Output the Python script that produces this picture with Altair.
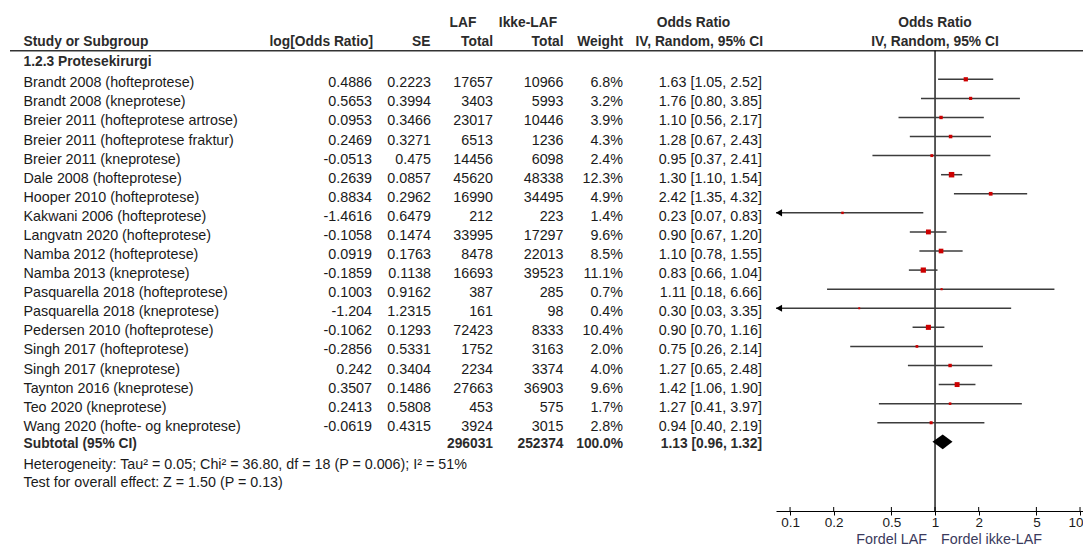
import altair as alt
import pandas as pd

# ---------------- data ----------------
studies = [
    "Brandt 2008 (hofteprotese)", "Brandt 2008 (kneprotese)",
    "Breier 2011 (hofteprotese artrose)", "Breier 2011 (hofteprotese fraktur)",
    "Breier 2011 (kneprotese)", "Dale 2008 (hofteprotese)", "Hooper 2010 (hofteprotese)",
    "Kakwani 2006 (hofteprotese)", "Langvatn 2020 (hofteprotese)", "Namba 2012 (hofteprotese)",
    "Namba 2013 (kneprotese)", "Pasquarella  2018 (hofteprotese)", "Pasquarella 2018 (kneprotese)",
    "Pedersen 2010 (hofteprotese)", "Singh 2017 (hofteprotese)", "Singh 2017 (kneprotese)",
    "Taynton 2016 (kneprotese)", "Teo 2020 (kneprotese)", "Wang 2020 (hofte- og kneprotese)",
]
log_or = ["0.4886", "0.5653", "0.0953", "0.2469", "-0.0513", "0.2639", "0.8834", "-1.4616",
          "-0.1058", "0.0919", "-0.1859", "0.1003", "-1.204", "-0.1062", "-0.2856", "0.242",
          "0.3507", "0.2413", "-0.0619"]
se = ["0.2223", "0.3994", "0.3466", "0.3271", "0.475", "0.0857", "0.2962", "0.6479", "0.1474",
      "0.1763", "0.1138", "0.9162", "1.2315", "0.1293", "0.5331", "0.3404", "0.1486", "0.5808",
      "0.4315"]
laf_total = [17657, 3403, 23017, 6513, 14456, 45620, 16990, 212, 33995, 8478, 16693, 387, 161,
             72423, 1752, 2234, 27663, 453, 3924]
ikke_total = [10966, 5993, 10446, 1236, 6098, 48338, 34495, 223, 17297, 22013, 39523, 285, 98,
              8333, 3163, 3374, 36903, 575, 3015]
weight = [6.8, 3.2, 3.9, 4.3, 2.4, 12.3, 4.9, 1.4, 9.6, 8.5, 11.1, 0.7, 0.4, 10.4, 2.0, 4.0,
          9.6, 1.7, 2.8]
odds = [1.63, 1.76, 1.10, 1.28, 0.95, 1.30, 2.42, 0.23, 0.90, 1.10, 0.83, 1.11, 0.30, 0.90,
        0.75, 1.27, 1.42, 1.27, 0.94]
lower = [1.05, 0.80, 0.56, 0.67, 0.37, 1.10, 1.35, 0.07, 0.67, 0.78, 0.66, 0.18, 0.03, 0.70,
         0.26, 0.65, 1.06, 0.41, 0.40]
upper = [2.52, 3.85, 2.17, 2.43, 2.41, 1.54, 4.32, 0.83, 1.20, 1.55, 1.04, 6.66, 3.35, 1.16,
         2.14, 2.48, 1.90, 3.97, 2.19]

group_label = "1.2.3 Protesekirurgi"
subtotal_label = "Subtotal (95% CI)"
subtotal_laf = 296031
subtotal_ikke = 252374
subtotal_weight = "100.0%"
subtotal_or = [0.96, 1.13, 1.32]  # lower, estimate, upper
heterogeneity = "Heterogeneity: Tau\u00b2 = 0.05; Chi\u00b2 = 36.80, df = 18 (P = 0.006); I\u00b2 = 51%"
overall = "Test for overall effect: Z = 1.50 (P = 0.13)"
tick_values = [0.1, 0.2, 0.5, 1, 2, 5, 10]
favours = ["Fordel LAF", "Fordel ikke-LAF"]

# ---------------- layout / style ----------------
FONT = "Liberation Sans"
FS = 14.3      # regular text
FSB = 13.8     # bold text
W, H = 1075, 503
XMIN, XMAX = 0.08, 12.0
xscale = alt.Scale(type="log", domain=[XMIN, XMAX], range=[768, 1083.5])
RB = 1 + (H - 71.3) / 19.08
yscale = alt.Scale(domain=[-2.737, RB], range=[0, H])
TXT = "#1a1a1a"
HDR = "#2b2b2b"
RED = "#cc0000"
LINE = "#3c3c3c"

n = len(studies)
df = pd.DataFrame({
    "row": list(range(1, n + 1)),
    "study": studies,
    "logor": log_or,
    "se": se,
    "laf": [str(v) for v in laf_total],
    "ikke": [str(v) for v in ikke_total],
    "weight": weight,
    "wtxt": [f"{w:.1f}%" for w in weight],
    "or": odds,
    "lo": lower,
    "hi": upper,
})
df["ortxt"] = [f"{o:.2f} [{l:.2f}, {h:.2f}]" for o, l, h in zip(odds, lower, upper)]
df["lo_plot"] = df["lo"].clip(lower=XMIN)
df["clipped"] = df["lo"] < XMIN

Y = alt.Y("row:Q", scale=yscale, axis=None)


def text_layer(data, field, xpx, align="right", bold=False, color=TXT, dy=8):
    return alt.Chart(data).mark_text(
        align=align, baseline="alphabetic", font=FONT, fontSize=FSB if bold else FS,
        fontWeight="bold" if bold else "normal", color=color, dy=dy,
    ).encode(x=alt.value(xpx), y=Y, text=alt.Text(f"{field}:N"))


layers = []

# header texts
hdr1_labels = ["LAF", "Ikke-LAF", "Odds Ratio", "Odds Ratio"]
hdr1_x = [455, 520, 685.5, 927]
hdr1 = pd.DataFrame({"row": [-2.18] * 4, "t": hdr1_labels, "k": range(4)})
for i, xp in enumerate(hdr1_x):
    layers.append(text_layer(hdr1[hdr1.k == i], "t", xp, align="center", bold=True, color=HDR))

hdr2_labels = ["log[Odds Ratio]", "SE", "Total", "Total", "Weight", "IV, Random, 95% CI"]
hdr2_x = [365, 422.5, 485, 555.5, 615, 755]
hdr2 = pd.DataFrame({"row": [-1.18] * len(hdr2_labels), "t": hdr2_labels, "k": range(len(hdr2_labels))})
for i, xp in enumerate(hdr2_x):
    layers.append(text_layer(hdr2[hdr2.k == i], "t", xp, align="right", bold=True, color=HDR))
study_hdr = pd.DataFrame({"row": [-1.18], "t": ["Study or Subgroup"]})
layers.append(text_layer(study_hdr, "t", 15.5, align="left", bold=True, color=HDR))
iv_hdr = pd.DataFrame({"row": [-1.18], "t": ["IV, Random, 95% CI"]})
layers.append(text_layer(iv_hdr, "t", 927, align="center", bold=True, color=HDR))

# header rule
hline = pd.DataFrame({"row": [-0.5]})
layers.append(alt.Chart(hline).mark_rule(color="#333333", strokeWidth=1.5).encode(
    y=Y, x=alt.value(2), x2=alt.value(W)))

# group label
grp = pd.DataFrame({"row": [-0.12], "t": [group_label]})
layers.append(text_layer(grp, "t", 15.5, align="left", bold=True, color=HDR))

# study columns
layers.append(text_layer(df, "study", 15.5, align="left"))
layers.append(text_layer(df, "logor", 364))
layers.append(text_layer(df, "se", 423))
layers.append(text_layer(df, "laf", 485))
layers.append(text_layer(df, "ikke", 555.5))
layers.append(text_layer(df, "wtxt", 615))
layers.append(text_layer(df, "ortxt", 754))

# subtotal row
sub = pd.DataFrame({"row": [20], "name": [subtotal_label], "laf": [str(subtotal_laf)],
                    "ikke": [str(subtotal_ikke)], "w": [subtotal_weight],
                    "ortxt": [f"{subtotal_or[1]:.2f} [{subtotal_or[0]:.2f}, {subtotal_or[2]:.2f}]"]})
layers.append(text_layer(sub, "name", 15.5, align="left", bold=True, color=HDR, dy=6))
layers.append(text_layer(sub, "laf", 485, bold=True, color=HDR, dy=6))
layers.append(text_layer(sub, "ikke", 555.5, bold=True, color=HDR, dy=6))
layers.append(text_layer(sub, "w", 615, bold=True, color=HDR, dy=6))
layers.append(text_layer(sub, "ortxt", 754, bold=True, color=HDR, dy=6))

# footer lines
foot = pd.DataFrame({"row": [21.0, 21.96], "t": [heterogeneity, overall]})
layers.append(text_layer(foot, "t", 15.5, align="left"))

# null line at OR = 1 (also carries the x axis)
null_df = pd.DataFrame({"x": [1.0], "row": [-0.5], "row2": [RB]})
layers.append(alt.Chart(null_df).mark_rule(color="black", strokeWidth=1.3).encode(
    x=alt.X("x:Q", scale=xscale,
            axis=alt.Axis(values=tick_values, format="~g", domainColor="black", domainWidth=1,
                          tickColor="black", tickSize=4, tickWidth=1, labelFont=FONT,
                          labelFontSize=13.5, labelColor=TXT, labelPadding=0, grid=False,
                          title=None, labelFlush=12, labelFlushOffset=3, labelOverlap=False)),
    y=Y, y2="row2:Q"))

# upward halves of the tick marks
ticks_df = pd.DataFrame({"x": tick_values})
layers.append(alt.Chart(ticks_df).mark_rule(color="black", strokeWidth=1).encode(
    x=alt.X("x:Q", scale=xscale), y=alt.value(H - 4), y2=alt.value(H)))

# CI lines
layers.append(alt.Chart(df).mark_rule(color=LINE, strokeWidth=1.5).encode(
    x=alt.X("lo_plot:Q", scale=xscale), x2="hi:Q", y=Y))

# arrows for clipped CIs
layers.append(alt.Chart(df[df["clipped"]]).mark_point(
    shape="triangle-left", filled=True, color="black", size=50, opacity=1, xOffset=3).encode(
    x=alt.X("lo_plot:Q", scale=xscale), y=Y))

# squares
layers.append(alt.Chart(df).mark_square(color=RED, opacity=1).encode(
    x=alt.X("or:Q", scale=xscale), y=Y,
    size=alt.Size("weight:Q", scale=alt.Scale(domain=[0, 12.3], range=[3, 30]), legend=None)))

# diamond
h = 0.39
dia = pd.DataFrame({"x": subtotal_or, "row": [20, 20 - h, 20], "row2": [20, 20 + h, 20]})
layers.append(alt.Chart(dia).mark_area(color="black", opacity=1).encode(
    x=alt.X("x:Q", scale=xscale), y=Y, y2="row2:Q"))

# favours labels
fav = pd.DataFrame({"x": [1.0, 1.0], "t": favours})
layers.append(alt.Chart(fav[fav.t == favours[0]]).mark_text(
    align="right", baseline="alphabetic", font=FONT, fontSize=FS, color="#3a3a5c", dx=-8).encode(
    x=alt.X("x:Q", scale=xscale), y=alt.value(536), text="t:N"))
layers.append(alt.Chart(fav[fav.t == favours[1]]).mark_text(
    align="left", baseline="alphabetic", font=FONT, fontSize=FS, color="#3a3a5c", dx=6).encode(
    x=alt.X("x:Q", scale=xscale), y=alt.value(536), text="t:N"))

chart = alt.layer(*layers).properties(
    width=W, height=H,
    padding={"left": 0, "top": 0, "right": 0, "bottom": 35},
    autosize=alt.AutoSizeParams(type="none"),
).configure_view(stroke=None)

chart.save("out.html", embed_options={"renderer": "svg", "actions": False})
